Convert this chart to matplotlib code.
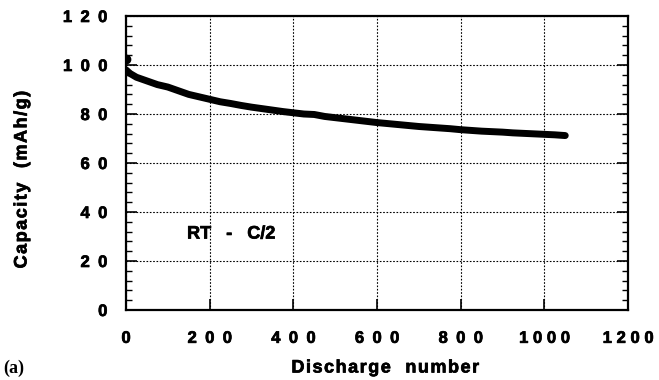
import matplotlib
matplotlib.use("Agg")
import matplotlib.pyplot as plt
import matplotlib.patheffects as pe
from matplotlib.ticker import MultipleLocator, FixedLocator, FixedFormatter

cycles = [0, 10, 25, 50, 75, 100, 125, 150, 175, 200, 225, 250, 275, 300, 325, 350,
          375, 400, 425, 450, 475, 500, 525, 550, 575, 600, 625, 650, 675, 700, 725,
          750, 775, 800, 825, 850, 875, 900, 925, 950, 975, 1000, 1025, 1050]
capacity = [98.0, 96.5, 95.0, 93.5, 92.0, 91.0, 89.5, 88.0, 87.0, 86.0, 85.0, 84.3,
            83.5, 82.8, 82.2, 81.6, 81.0, 80.5, 80.0, 79.8, 79.0, 78.5, 78.0, 77.5,
            77.0, 76.5, 76.1, 75.7, 75.3, 74.9, 74.6, 74.3, 74.0, 73.6, 73.3, 73.0,
            72.8, 72.6, 72.3, 72.1, 71.9, 71.7, 71.5, 71.2]
first_cycle = [0]
first_capacity = [102.5]

x_ticks = [0, 200, 400, 600, 800, 1000, 1200]
y_ticks = [0, 20, 40, 60, 80, 100, 120]
annotation = "RT   -   C/2"
xlabel = "Discharge  number"
ylabel = "Capacity  (mAh/g)"

FAM = ["Liberation Sans", "DejaVu Sans"]
BOLD = [pe.withStroke(linewidth=0.5, foreground="black")]

def spaced(v):
    s = str(v)
    sep = " " if len(s) > 3 else "\u2002"
    return sep.join(s)

def tracked(s):
    return "\u200a".join(s)

fig = plt.figure(figsize=(6.59, 3.80), dpi=100)
ax = fig.add_axes([126/659, 1 - 310/380, (628-126)/659, (310-16)/380])

ax.plot(cycles, capacity, color="black", lw=5, solid_capstyle="round", zorder=3)
ax.plot(first_cycle, first_capacity, "o", color="black", ms=6, zorder=4)

ax.set_xlim(0, 1200)
ax.set_ylim(0, 120)
ax.xaxis.set_major_locator(FixedLocator(x_ticks))
ax.xaxis.set_major_formatter(FixedFormatter([spaced(v) for v in x_ticks]))
ax.yaxis.set_major_locator(FixedLocator(y_ticks))
ax.yaxis.set_major_formatter(FixedFormatter([spaced(v) for v in y_ticks]))
ax.yaxis.set_minor_locator(MultipleLocator(4))

ax.grid(True, which="major", linestyle=(0, (1.5, 1.5)), color="black", lw=0.8)
ax.tick_params(axis="both", which="major", direction="in", length=8, width=1.2,
               labelsize=12)
ax.tick_params(axis="y", which="major", right=True, pad=13.5)
ax.tick_params(axis="x", which="major", pad=15)
ax.tick_params(axis="y", which="minor", direction="in", length=4, width=1,
               left=True, right=True)
for lab in ax.get_xticklabels() + ax.get_yticklabels():
    lab.set_fontweight("bold")
    lab.set_family(FAM)
    lab.set_path_effects(BOLD)
for s in ax.spines.values():
    s.set_linewidth(1.6)

ax.text(146, 31, annotation, fontsize=13, fontweight="bold", family=FAM,
        va="center", ha="left", path_effects=BOLD)

fig.text(385/659, 1 - 368/380, tracked(xlabel), fontsize=13, fontweight="bold",
         family=FAM, ha="center", va="center", path_effects=BOLD)
fig.text(22/659, 1 - 180/380, tracked(ylabel), fontsize=13, fontweight="bold",
         family=FAM, ha="center", va="center", rotation=90, path_effects=BOLD)
fig.text(3/659, 1 - 368/380, "(a)", fontsize=13, fontweight="bold",
         family=["Liberation Serif", "DejaVu Serif"], ha="left", va="center")

fig.savefig("out.png", dpi=100)
